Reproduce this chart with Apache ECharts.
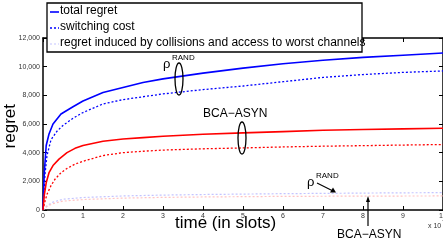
<!DOCTYPE html>
<html><head><meta charset="utf-8">
<script src="https://cdn.jsdelivr.net/npm/echarts@6/dist/echarts.min.js"></script>
<style>html,body{margin:0;padding:0;background:#fff}#c{width:443px;height:242px}</style>
</head><body><div id="c"></div>
<script>
// time (x 10^7 slots)
const tTotalRand = [0,0.03,0.08,0.15,0.25,0.45,0.75,1,1.5,2,2.5,3,4,5,6,7,8,9,10];
const totalRand  = [0,2500,4500,5300,6000,6700,7200,7600,8200,8550,8900,9150,9550,9900,10200,10450,10650,10800,10950];
const tSwitchRand = [0,0.05,0.1,0.2,0.35,0.5,0.75,1,1.5,2,2.5,3,4,5,6,7,8,9,10];
const switchRand  = [0,2500,3800,4900,5500,5900,6400,6800,7400,7700,7900,8100,8400,8650,8950,9250,9450,9600,9700];
const tTotalBca = [0,0.03,0.08,0.15,0.25,0.4,0.6,0.8,1,1.5,2,2.5,3,4,5,6,7,8,9,10];
const totalBca  = [0,1000,1900,2600,3100,3550,4000,4300,4500,4800,4950,5050,5150,5280,5380,5470,5560,5620,5660,5700];
const tSwitchBca = [0,0.05,0.1,0.2,0.3,0.45,0.6,0.8,1,1.5,2,2.5,3,4,5,6,7,8,9,10];
const switchBca  = [0,600,1100,1700,2150,2600,2900,3200,3400,3800,4000,4100,4180,4270,4330,4400,4450,4490,4530,4570];
const tColl = [0,0.1,0.25,0.5,1,2,3,4,5,6,7,8,9,10];
const collRand = [0,300,550,750,870,980,1040,1080,1110,1140,1160,1180,1200,1210];
const collBca  = [0,250,450,620,730,830,880,910,930,950,960,970,975,980];
const legendNames = ['total regret','switching cost','regret induced by collisions and access to worst channels'];

const pair = (xs, ys) => xs.map((x, i) => [x, ys[i]]);
const FONT = 'Liberation Sans, Arial, sans-serif';
const chart = echarts.init(document.getElementById('c'));

function mkSeries(name, xs, ys, color, type, width) {
  return {type:'line', name, data: pair(xs, ys), symbol:'none', smooth:false, animation:false,
    lineStyle:{color, width, type}, z: 3};
}
const axisCommon = {
  min:0, axisLine:{show:true, onZero:false, lineStyle:{color:'#000', width:1.5}},
  axisTick:{show:true, inside:true, length:4, lineStyle:{color:'#000', width:1}},
  splitLine:{show:false}
};
chart.setOption({
  animation:false,
  grid:{left:43, right:0, top:38, bottom:32, outerBoundsMode:'none', containLabel:false},
  xAxis:[
    Object.assign({type:'value', max:10, interval:1, position:'bottom',
      axisLabel:{fontSize:7, color:'#333', fontFamily:FONT, margin:3}}, axisCommon),
    Object.assign({type:'value', max:10, interval:1, position:'top', axisLabel:{show:false}}, axisCommon)
  ],
  yAxis:[
    Object.assign({type:'value', max:12000, interval:2000, position:'left',
      axisLabel:{fontSize:7, color:'#333', fontFamily:FONT, margin:3}}, axisCommon),
    Object.assign({type:'value', max:12000, interval:2000, position:'right', axisLabel:{show:false}}, axisCommon)
  ],
  series:[
    mkSeries(legendNames[2], tColl, collRand, '#c4c4ff', [2,2], 1.2),
    mkSeries(legendNames[2], tColl, collBca, '#ffc4c4', [2,2], 1.2),
    mkSeries(legendNames[1], tSwitchRand, switchRand, '#0000ff', [2,2], 1.3),
    mkSeries(legendNames[1], tSwitchBca, switchBca, '#ff0000', [2,2], 1.3),
    mkSeries(legendNames[0], tTotalRand, totalRand, '#0000ff', 'solid', 1.6),
    mkSeries(legendNames[0], tTotalBca, totalBca, '#ff0000', 'solid', 1.6)
  ],
  graphic:[
    {type:'text', left:2, top:104, rotation:Math.PI/2,
      style:{text:'regret', font:'17px '+FONT, fill:'#000'}},
    {type:'text', x:175, y:215, style:{text:'time (in slots)', font:'17px '+FONT, fill:'#000'}},
    {type:'text', x:428, y:223, style:{text:'x 10', font:'7px '+FONT, fill:'#333'}},
    {type:'text', x:442, y:219, style:{text:'7', font:'6px '+FONT, fill:'#333'}},
    // legend box
    {type:'rect', shape:{x:47, y:3, width:315, height:49}, style:{fill:'#fff', stroke:'#000', lineWidth:1.3}, z:10},
    {type:'line', shape:{x1:50,y1:12,x2:59,y2:12}, style:{stroke:'#0000ff', lineWidth:1.6}, z:11},
    {type:'line', shape:{x1:50,y1:28,x2:59,y2:28}, style:{stroke:'#0000ff', lineWidth:1.3, lineDash:[2,2]}, z:11},
    {type:'line', shape:{x1:50,y1:44,x2:59,y2:44}, style:{stroke:'#c4c4ff', lineWidth:1.2, lineDash:[2,2]}, z:11},
    {type:'text', x:60, y:5, style:{text:legendNames[0], font:'12px '+FONT, fill:'#000'}, z:11},
    {type:'text', x:60, y:21, style:{text:legendNames[1], font:'12px '+FONT, fill:'#000'}, z:11},
    {type:'text', x:60, y:37, style:{text:legendNames[2], font:'12px '+FONT, fill:'#000'}, z:11},
    // annotations
    {type:'text', x:163, y:58, style:{text:'ρ', font:'13px '+FONT, fill:'#000'}, z:11},
    {type:'text', x:172, y:54, style:{text:'RAND', font:'8px '+FONT, fill:'#000'}, z:11},
    {type:'ellipse', shape:{cx:179, cy:79, rx:4, ry:16}, style:{fill:'none', stroke:'#000', lineWidth:1.3}, z:11},
    {type:'text', x:203, y:108, style:{text:'BCA\u2212ASYN', font:'12px '+FONT, fill:'#000'}, z:11},
    {type:'ellipse', shape:{cx:242, cy:138, rx:4, ry:16}, style:{fill:'none', stroke:'#000', lineWidth:1.3}, z:11},
    {type:'text', x:307, y:176, style:{text:'ρ', font:'13px '+FONT, fill:'#000'}, z:11},
    {type:'text', x:316, y:172, style:{text:'RAND', font:'8px '+FONT, fill:'#000'}, z:11},
    {type:'line', shape:{x1:317,y1:183,x2:332,y2:190.5}, style:{stroke:'#000', lineWidth:1.2}, z:11},
    {type:'polygon', shape:{points:[[336,192.5],[330,192.5],[333,187.5]]}, style:{fill:'#000'}, z:11},
    {type:'text', x:337, y:229, style:{text:'BCA\u2212ASYN', font:'12px '+FONT, fill:'#000'}, z:11},
    {type:'line', shape:{x1:368,y1:226,x2:368,y2:200}, style:{stroke:'#000', lineWidth:1.2}, z:11},
    {type:'polygon', shape:{points:[[368,196],[366,202],[370,202]]}, style:{fill:'#000'}, z:11}
  ]
});
</script></body></html>
